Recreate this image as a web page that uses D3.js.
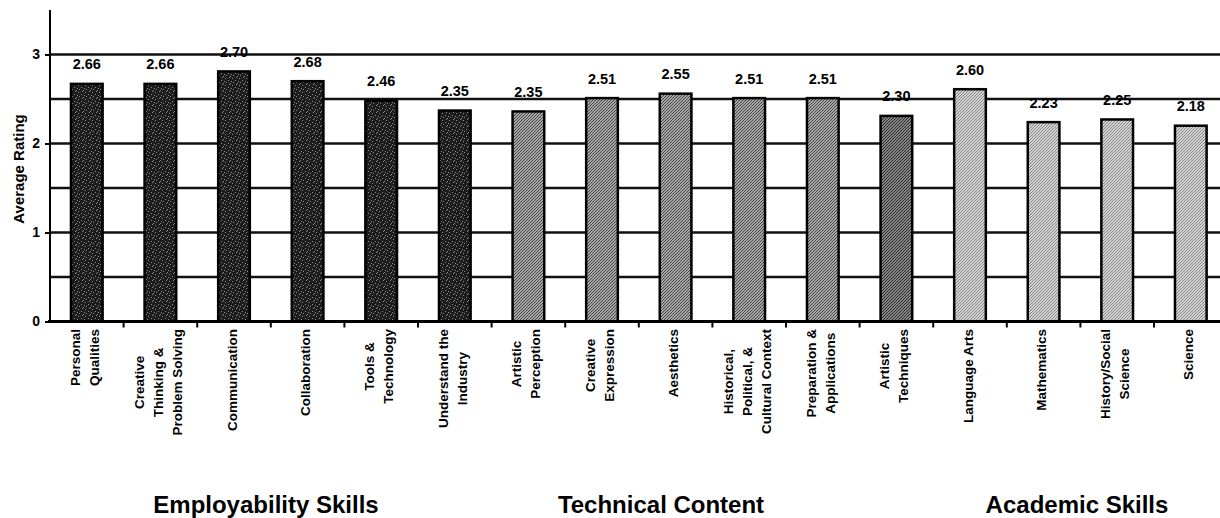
<!DOCTYPE html>
<html>
<head>
<meta charset="utf-8">
<script src="https://cdn.jsdelivr.net/npm/d3@7"></script>
<style>
html,body{margin:0;padding:0;background:#fff;}
svg{display:block;font-family:"Liberation Sans",Arial,Helvetica,sans-serif;font-weight:bold;}
</style>
</head>
<body>
<svg id="chart" width="1220" height="518"></svg>
<script>
// ---- data ----
const categories = [
  ["Personal","Qualities"],
  ["Creative","Thinking &","Problem Solving"],
  ["Communication"],
  ["Collaboration"],
  ["Tools &","Technology"],
  ["Understand the","Industry"],
  ["Artistic","Perception"],
  ["Creative","Expression"],
  ["Aesthetics"],
  ["Historical,","Political, &","Cultural Context"],
  ["Preparation &","Applications"],
  ["Artistic","Techniques"],
  ["Language Arts"],
  ["Mathematics"],
  ["History/Social","Science"],
  ["Science"]
];
const groups = ["emp","emp","emp","emp","emp","emp","tech","tech","tech","tech","tech","techDark","acad","acad","acad","acad"];
const values = [2.67, 2.67, 2.81, 2.70, 2.48, 2.37, 2.36, 2.51, 2.56, 2.51, 2.51, 2.31, 2.61, 2.24, 2.27, 2.20];
const valueLabels = ["2.66","2.66","2.70","2.68","2.46","2.35","2.35","2.51","2.55","2.51","2.51","2.30","2.60","2.23","2.25","2.18"];
const yTicks = [0, 1, 2, 3];
const gridValues = [0.5, 1, 1.5, 2, 2.5, 3];
const groupTitles = ["Employability Skills", "Technical Content", "Academic Skills"];

// ---- layout ----
const svg = d3.select("#chart");
const W = 1220;
const x = d3.scaleBand().domain(d3.range(categories.length)).range([50, 1227.6]).padding(0);
const y = d3.scaleLinear().domain([0, 3.5]).range([321.5, 10]);
const barW = x.bandwidth() * 0.43;

// patterns
const defs = svg.append("defs");
function speckle(id, bg, dot, op) {
  const p = defs.append("pattern").attr("id", id).attr("patternUnits", "userSpaceOnUse")
    .attr("width", 7).attr("height", 7);
  p.append("rect").attr("width", 7).attr("height", 7).attr("fill", bg);
  [[1,1],[4,3],[2,5],[6,6],[5,0],[0,4]].forEach(([a,b]) =>
    p.append("rect").attr("x", a).attr("y", b).attr("width", 1).attr("height", 1).attr("fill", dot).attr("opacity", op));
}
function hatch(id, bg, line) {
  const p = defs.append("pattern").attr("id", id).attr("patternUnits", "userSpaceOnUse")
    .attr("width", 3).attr("height", 3);
  p.append("rect").attr("width", 3).attr("height", 3).attr("fill", bg);
  p.append("path").attr("d", "M0,3 L3,0 M-1,1 L1,-1 M2,4 L4,2").attr("stroke", line).attr("stroke-width", 1);
}
speckle("pEmp", "#1c1c1c", "#a0a0a0", 0.85);
hatch("pTech", "#a8a8a8", "#444");
hatch("pTechDark", "#858585", "#2a2a2a");
hatch("pAcad", "#d4d4d4", "#858585");
const fills = { emp: "url(#pEmp)", tech: "url(#pTech)", techDark: "url(#pTechDark)", acad: "url(#pAcad)" };

// gridlines
svg.append("g").selectAll("line").data(gridValues).join("line")
  .attr("x1", 50).attr("x2", W)
  .attr("y1", d => y(d)).attr("y2", d => y(d))
  .attr("stroke", "#111").attr("stroke-width", 2.5);

// bars
svg.append("g").selectAll("rect").data(values).join("rect")
  .attr("x", (d, i) => x(i) + x.bandwidth() / 2 - barW / 2)
  .attr("y", d => y(d))
  .attr("width", barW)
  .attr("height", d => y(0) - y(d))
  .attr("fill", (d, i) => fills[groups[i]])
  .attr("stroke", "#000").attr("stroke-width", 2.5);

// value labels
svg.append("g").selectAll("text").data(values).join("text")
  .attr("x", (d, i) => x(i) + x.bandwidth() / 2)
  .attr("y", d => y(d) - 14.5)
  .attr("text-anchor", "middle")
  .attr("font-size", 14.5)
  .attr("fill", "#000")
  .text((d, i) => valueLabels[i]);

// y axis
const yAxis = svg.append("g").attr("transform", "translate(50,0)")
  .call(d3.axisLeft(y).tickValues(yTicks).tickFormat(d3.format("d")).tickSize(5).tickPadding(5));
yAxis.select(".domain").attr("d", `M0,${y(3.5)}V${y(0)}`).attr("stroke", "#000").attr("stroke-width", 2);
yAxis.selectAll(".tick line").attr("stroke", "#000").attr("stroke-width", 2);
yAxis.selectAll(".tick text").attr("font-size", 14).attr("font-family", null).attr("font-weight", "bold").attr("fill", "#000");

// x axis line + ticks at band boundaries
const xAxisG = svg.append("g");
xAxisG.append("line").attr("x1", 48).attr("x2", W).attr("y1", y(0)).attr("y2", y(0))
  .attr("stroke", "#000").attr("stroke-width", 3);
xAxisG.selectAll("line.tk").data(d3.range(1, categories.length)).join("line").attr("class", "tk")
  .attr("x1", d => x(d)).attr("x2", d => x(d))
  .attr("y1", y(0)).attr("y2", y(0) + 6)
  .attr("stroke", "#000").attr("stroke-width", 2);

// category labels (rotated, wrapped, centered lines, block top-aligned to axis)
const lineGap = 19;
const labelTop = 329;
categories.forEach((lines, i) => {
  const cx = x(i) + x.bandwidth() / 2 - 2;
  const g = svg.append("g");
  const texts = lines.map((t, j) => g.append("text")
    .attr("font-size", 13.5)
    .attr("dominant-baseline", "central")
    .attr("text-anchor", "middle")
    .text(t));
  const maxLen = d3.max(texts, t => t.node().getComputedTextLength());
  const cy = labelTop + maxLen / 2;
  texts.forEach((t, j) => {
    const lx = cx + (j - (lines.length - 1) / 2) * lineGap;
    t.attr("transform", `translate(${lx},${cy}) rotate(-90)`);
  });
});

// y title
svg.append("text")
  .attr("transform", `translate(18,169) rotate(-90)`)
  .attr("text-anchor", "middle")
  .attr("dominant-baseline", "central")
  .attr("font-size", 15)
  .text("Average Rating");

// group titles
const titleX = [266, 661, 1077];
svg.append("g").selectAll("text").data(groupTitles).join("text")
  .attr("x", (d, i) => titleX[i]).attr("y", 513)
  .attr("text-anchor", "middle")
  .attr("font-size", 24)
  .text(d => d);
</script>
</body>
</html>
